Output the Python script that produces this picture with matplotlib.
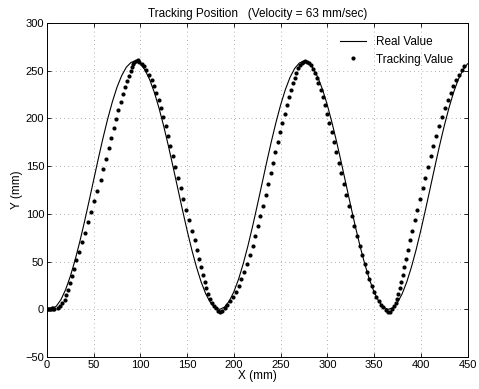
import matplotlib
matplotlib.use("Agg")
import matplotlib.pyplot as plt

plt.rcParams['font.family'] = ['Liberation Sans', 'DejaVu Sans']

# real (reference) path, read every 5 mm
real_x = [0, 3.5] + list(range(5, 451, 5))
real_y = [0, 0,
          0.2, 3.3, 10.2, 20.7, 34.6, 51.2, 70.3, 91.1, 113.1, 135.6,
          158.0, 179.5, 199.5, 217.4, 232.8, 244.9, 253.7, 258.7, 259.9, 257.2,
          250.6, 240.5, 227.0, 210.5, 191.7, 171.0, 149.1, 126.6, 104.2, 82.6,
          62.4, 44.3, 28.7, 16.1, 7.0, 1.6, 0.0, 2.4, 8.5, 18.4,
          31.5, 47.7, 66.3, 86.8, 108.7, 131.1, 153.6, 175.3, 195.6, 214.0,
          229.9, 242.8, 252.3, 258.0, 260.0, 258.0, 252.2, 242.8, 229.9, 214.0,
          195.6, 175.3, 153.6, 131.1, 108.6, 86.8, 66.3, 47.7, 31.5, 18.3,
          8.5, 2.4, 0.0, 1.6, 7.0, 16.1, 28.7, 44.3, 62.4, 82.6,
          104.2, 126.6, 149.1, 171.1, 191.7, 210.5, 227.0, 240.5, 250.6, 257.2]

# measured tracking points
track_x = [0, 1, 2, 3, 4, 5, 6, 7, 8,
           11.5, 14, 16.5, 19, 20.5, 23, 24.5, 27, 29, 31,
           34, 37, 40.5, 43.5, 47, 50.5, 54, 57.5, 60.5, 63.5,
           66.5, 69, 71.5, 74, 76.5, 79, 81.5, 84, 86, 88,
           89.5, 91, 92, 93.5, 95, 97, 99, 101.5, 104, 106.5,
           109, 112, 114.5, 117, 119.5, 122, 124.5, 127, 129.5, 132,
           135, 137.5, 140.5, 143, 146, 149, 152, 155, 158, 161,
           163, 165, 167, 169, 170.5, 172.5, 174.5, 176.5, 178.5, 181,
           183, 185, 187.5, 190, 193, 196, 199, 202, 205, 208,
           211, 214, 217, 220, 223, 226, 228.5, 231.5, 234, 237,
           239.5, 242, 244.5, 247, 249.5, 252, 254.5, 257, 259, 261,
           263, 265, 267, 269, 270.5, 272.5, 274.5, 276.5, 278.5, 280.5,
           282.5, 284.5, 286.5, 288.5, 290.5, 293, 295, 297.5, 299.5, 302,
           304.5, 307, 309.5, 312.5, 315, 318, 320.5, 323.5, 326, 329,
           331.5, 334.5, 337, 340, 342.5, 345, 347.5, 350, 352.5, 355,
           357.5, 360, 362.5, 365, 367.5, 369, 371, 373, 374.5, 376,
           377.5, 379, 380.5, 382, 384, 386, 388.5, 391, 393.5, 396,
           399, 402, 404.5, 407.5, 410.5, 413.5, 416.5, 420, 423, 426,
           429, 432, 435, 438, 441, 444, 446.5]
track_y = [0, 0.5, 0, 0.8, 0.3, 1.0, 0.5, 1.2, 0.2,
           1.3, 3.3, 6.3, 10.2, 15.0, 20.7, 27.3, 34.6, 42.6, 51.2,
           60.5, 70.3, 80.5, 91.1, 102.0, 113.1, 124.3, 135.6, 146.9, 158.0,
           168.9, 179.5, 189.7, 199.5, 208.7, 217.4, 225.5, 232.8, 239.3, 244.9,
           249.8, 253.7, 256.7, 258.7, 260.5, 261.0, 259.5, 257.2, 254.4, 250.6,
           246.0, 240.5, 234.1, 227.0, 219.1, 210.5, 201.4, 191.7, 181.5, 171.0,
           160.2, 149.1, 137.9, 126.6, 115.3, 104.2, 93.3, 82.6, 72.3, 62.4,
           53.1, 44.3, 36.1, 28.7, 22.0, 16.1, 11.1, 7.0, 3.8, 1.6,
           -1.5, -2.5, -2.0, 1.0, 5.0, 8.5, 13.0, 18.4, 24.6, 31.5,
           39.3, 47.7, 56.7, 66.3, 76.4, 86.8, 97.6, 108.7, 119.9, 131.1,
           142.4, 153.6, 164.6, 175.3, 185.7, 195.6, 205.1, 214.0, 222.3, 229.9,
           236.8, 242.8, 248.0, 252.3, 255.6, 258.0, 259.5, 260.5, 259.5, 258.0,
           255.6, 252.2, 247.9, 242.8, 236.8, 229.9, 222.3, 214.0, 205.1, 195.6,
           185.7, 175.3, 164.6, 153.6, 142.4, 131.1, 119.8, 108.6, 97.6, 86.8,
           76.4, 66.3, 56.7, 47.7, 39.3, 31.5, 24.5, 18.3, 13.0, 8.5,
           5.0, 2.4, -0.5, -2.5, -2.5, 0.5, 3.8, 7.0, 11.1, 16.1,
           22.0, 28.7, 36.1, 44.3, 53.1, 62.4, 72.3, 82.6, 93.3, 104.2,
           115.3, 126.6, 137.9, 149.1, 160.2, 171.1, 181.6, 191.7, 201.4, 210.5,
           219.1, 227.0, 234.1, 240.5, 246.0, 250.6, 254.4]

x_ticks = list(range(0, 451, 50))
y_ticks = list(range(-50, 301, 50))

fig = plt.figure(figsize=(4.79, 3.89), dpi=100)
ax = fig.add_axes([0.098, 0.082, 0.878, 0.859])

ax.plot(real_x, real_y, color='black', lw=0.8, label='Real Value')
ax.plot(track_x, track_y, 'o', color='black', ms=3.0, mew=0, label='Tracking Value')

ax.set_xlim(0, 450)
ax.set_ylim(-50, 300)
ax.set_xticks(x_ticks)
ax.set_yticks(y_ticks)
ax.tick_params(direction='in', length=3, width=0.6, labelsize=8,
               top=True, right=True, pad=2)
ax.grid(True, linestyle=(0, (1, 4)), color='0.6', lw=0.6)
for s in ax.spines.values():
    s.set_linewidth(0.7)

ax.set_title('Tracking Position   (Velocity = 63 mm/sec)', fontsize=8.5, pad=4)
ax.set_xlabel('X (mm)', fontsize=8.5, labelpad=0)
ax.set_ylabel('Y (mm)', fontsize=8.5, labelpad=2)

leg = ax.legend(loc='upper right', frameon=False, fontsize=8.5,
                handlelength=2.2, borderaxespad=0.3, labelspacing=0.45,
                bbox_to_anchor=(0.985, 0.985))

fig.savefig('out.png', dpi=100)
